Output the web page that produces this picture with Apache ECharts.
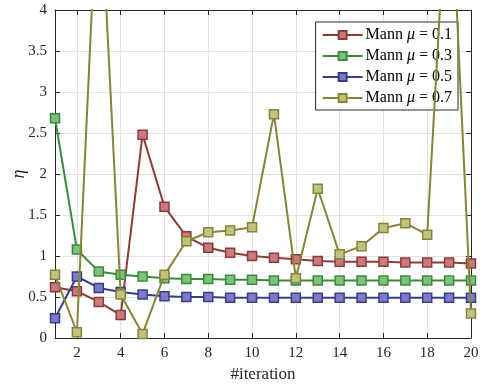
<!DOCTYPE html>
<html>
<head>
<meta charset="utf-8">
<script src="https://cdn.jsdelivr.net/npm/echarts@6/dist/echarts.min.js"></script>
<style>html,body{margin:0;padding:0;background:#fff;}#c{width:483px;height:384px;}</style>
</head>
<body>
<div id="c"></div>
<script>
const iterations = [1,2,3,4,5,6,7,8,9,10,11,12,13,14,15,16,17,18,19,20];
const mu01 = [0.62,0.57,0.44,0.28,2.48,1.60,1.24,1.10,1.04,1.00,0.98,0.96,0.94,0.93,0.93,0.93,0.92,0.92,0.92,0.91];
const mu03 = [2.68,1.08,0.81,0.77,0.75,0.73,0.72,0.72,0.71,0.71,0.70,0.70,0.70,0.70,0.70,0.70,0.70,0.70,0.70,0.70];
const mu05 = [0.24,0.75,0.61,0.56,0.53,0.51,0.50,0.50,0.49,0.49,0.49,0.49,0.49,0.49,0.49,0.49,0.49,0.49,0.49,0.49];
const mu07 = [0.77,0.07,5.85,0.53,0.05,0.77,1.18,1.29,1.31,1.35,2.73,0.73,1.82,1.02,1.12,1.34,1.40,1.26,6.0,0.30];
const seriesNames = ['Mann μ = 0.1','Mann μ = 0.3','Mann μ = 0.5','Mann μ = 0.7'];
const muLabels = ['0.1','0.3','0.5','0.7'];
const xTicks = [2,4,6,8,10,12,14,16,18,20];

const font = 'Liberation Serif';
const styles = [
  {line:'#8c3b3b', fill:'#c97a7a', border:'#8c3b3b'},
  {line:'#3b8a3b', fill:'#7cc27c', border:'#3b8a3b'},
  {line:'#3b3b8c', fill:'#7c7cc4', border:'#3b3b8c'},
  {line:'#85853a', fill:'#c2c280', border:'#85853a'}
];
const allData = [mu01, mu03, mu05, mu07];

const chart = echarts.init(document.getElementById('c'), null, {renderer:'canvas'});
const axisLineStyle = {color:'#262626', width:1};
const option = {
  animation:false,
  backgroundColor:'#fff',
  grid:{left:55, right:12, top:10, bottom:46, containLabel:false, outerBoundsMode:'none'},
  xAxis:[{
    type:'value', min:1, max:20,
    name:'#iteration', nameLocation:'middle', nameGap:26,
    nameTextStyle:{fontFamily:font, fontSize:17, color:'#262626'},
    axisLine:{show:true, onZero:false, lineStyle:axisLineStyle},
    axisTick:{show:true, inside:true, length:5, customValues:xTicks, lineStyle:axisLineStyle},
    axisLabel:{customValues:xTicks, fontFamily:font, fontSize:15, color:'#262626', margin:8},
    splitLine:{show:true, lineStyle:{color:'#e3e3e3', width:1}}
  },{
    type:'value', min:1, max:20, position:'top',
    axisLine:{show:true, onZero:false, lineStyle:axisLineStyle},
    axisTick:{show:true, inside:true, length:5, customValues:xTicks, lineStyle:axisLineStyle},
    axisLabel:{show:false},
    splitLine:{show:false}
  }],
  yAxis:[{
    type:'value', min:0, max:4, interval:0.5,
    name:'η', nameLocation:'middle', nameGap:27, nameMoveOverlap:false,
    nameTextStyle:{fontFamily:font, fontSize:18, fontStyle:'italic', color:'#262626'},
    axisLine:{show:true, onZero:false, lineStyle:axisLineStyle},
    axisTick:{show:true, inside:true, length:5, lineStyle:axisLineStyle},
    axisLabel:{fontFamily:font, fontSize:15, color:'#262626', margin:8},
    splitLine:{show:true, lineStyle:{color:'#e3e3e3', width:1}}
  },{
    type:'value', min:0, max:4, interval:0.5, position:'right',
    axisLine:{show:true, onZero:false, lineStyle:axisLineStyle},
    axisTick:{show:true, inside:true, length:5, lineStyle:axisLineStyle},
    axisLabel:{show:false},
    splitLine:{show:false}
  }],
  legend:{
    orient:'vertical', right:25, top:22,
    backgroundColor:'#fff', borderColor:'#262626', borderWidth:1,
    padding:[5,6,4,6],
    itemWidth:40, itemHeight:10, itemGap:5,
    data:seriesNames,
    formatter:function(name){
      const i = seriesNames.indexOf(name);
      return 'Mann {m|μ} = ' + muLabels[i];
    },
    textStyle:{fontFamily:font, fontSize:16, color:'#000', padding:[0,0,0,-2],
      rich:{m:{fontFamily:font, fontSize:16, fontStyle:'italic', color:'#000'}}}
  },
  series: allData.map(function(vals, k){
    return {
      name:seriesNames[k], type:'line', xAxisIndex:0, yAxisIndex:0,
      data: iterations.map(function(x,i){return [x, vals[i]];}),
      symbol:'rect', symbolSize:9, showAllSymbol:true, clip:true,
      lineStyle:{color:styles[k].line, width:2},
      itemStyle:{color:styles[k].fill, borderColor:styles[k].border, borderWidth:1.5},
      emphasis:{disabled:true},
      z: 2 + k
    };
  })
};
chart.setOption(option);
</script>
</body>
</html>
